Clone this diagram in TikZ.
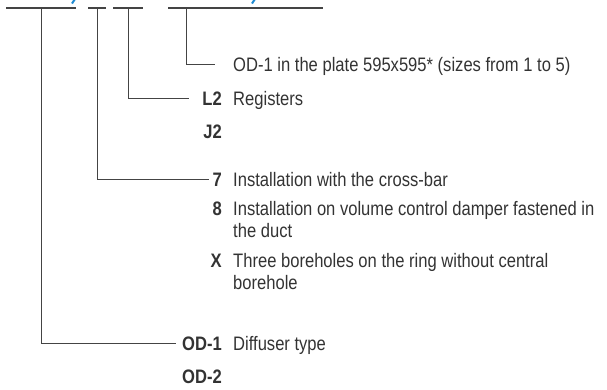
\documentclass[tikz,border=0pt]{standalone}
\usepackage{fontspec}
\setmainfont{Liberation Sans}[FakeStretch=0.85]
\usepackage{xcolor}
\usetikzlibrary{positioning}

\definecolor{inkgray}{HTML}{333333}
\definecolor{linegray}{HTML}{444444}
\definecolor{codeblue}{HTML}{1E8AD2}

\begin{document}
\begin{tikzpicture}[x=1pt, y=-1pt,
    bar/.style={draw=linegray, line width=1.1pt},
    lead/.style={draw=linegray, line width=0.9pt},
    code/.style={anchor=base east, font=\fontsize{19.5}{22}\selectfont\bfseries,
                 text=inkgray, inner sep=1pt, text height=14pt, text depth=0pt},
    descr/.style={anchor=base west, font=\fontsize{19.5}{22.5}\selectfont,
                  text=inkgray, inner sep=1pt, align=left}
]
\useasboundingbox (0,0) rectangle (607,389);

% --- top code bar, cut off at the page edge ---
\draw[bar] (6,8) -- (76,8);
\draw[bar] (88,8) -- (106,8);
\draw[bar] (113,8) -- (143,8);
\draw[bar] (168,8) -- (323,8);
\draw[codeblue, line width=2pt] (72,3.5) -- (75,-1);
\draw[codeblue, line width=2pt] (252,3.5) -- (255,-1);

\coordinate (tType)  at (41,8);
\coordinate (tMount) at (97,8);
\coordinate (tReg)   at (128,8);
\coordinate (tPlate) at (186,8);

% --- codes and their meanings (multi-line texts sit on their last baseline) ---
\node[descr, text height=14pt, text depth=0pt] (plate) at (232,71) {OD-1 in the plate 595x595* (sizes from 1 to 5)};

\node[code] (l2) at (223,105) {L2};
\node[descr] (l2txt) at (232,105) {Registers};
\node[code] (j2) at (223,138) {J2};

\node[code] (m7) at (223,186) {7};
\node[descr] (m7txt) at (232,186) {Installation with the cross-bar};
\node[code] (m8) at (223,215) {8};
\node[descr] (m8txt) at (232,237.5) {Installation on volume control damper fastened in\\the duct};
\node[code] (mx) at (223,267) {X};
\node[descr] (mxtxt) at (232,289.5) {Three boreholes on the ring without central\\borehole};

\node[code] (od1) at (223,350) {OD-1};
\node[descr] (od1txt) at (232,350) {Diffuser type};
\node[code] (od2) at (223,383) {OD-2};

% --- leader lines from the bar to the codes ---
\draw[lead, shorten >=17pt] (tPlate) |- (plate.west);
\draw[lead, shorten >=12pt] (tReg) |- (l2.west);
\draw[lead, shorten >=2pt] (tMount) |- (m7.west);
\draw[lead, shorten >=5pt] (tType) |- (od1.west);

\end{tikzpicture}
\end{document}
